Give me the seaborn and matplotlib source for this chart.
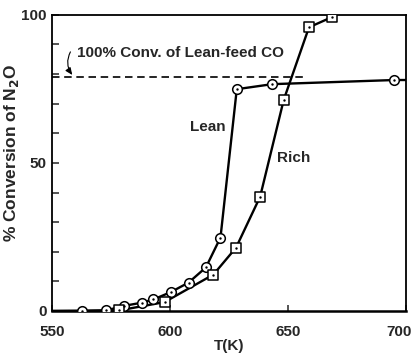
import matplotlib
matplotlib.use("Agg")
import matplotlib.pyplot as plt
import matplotlib.transforms as mtransforms
import seaborn as sns
import pandas as pd

# Lean feed: temperature (K) and % N2O conversion
lean_T = [562.7, 573.0, 580.3, 588.0, 593.0, 600.4, 607.9, 615.2, 621.4, 628.3, 643.3, 695.1]
lean_conv = [0.0, 0.2, 1.7, 2.8, 3.9, 6.4, 9.6, 14.7, 24.8, 74.9, 76.6, 78.0]

# Rich feed
rich_T = [578.5, 597.7, 618.4, 628.0, 638.2, 648.2, 658.9, 668.5]
rich_conv = [0.2, 3.0, 12.3, 21.4, 38.6, 71.3, 95.8, 99.2]

# Level corresponding to complete conversion of the lean-feed CO
co_limit = 79.1
co_limit_end = 658.0

x_ticks = [550, 600, 650, 700]
y_ticks = [0, 50, 100]

sns.set_theme(style="white")
plt.rcParams["font.family"] = ["Liberation Sans", "DejaVu Sans"]
plt.rcParams["font.weight"] = "bold"
plt.rcParams["mathtext.default"] = "bf"

fig = plt.figure(figsize=(4.14, 3.54), dpi=100)
ax = fig.add_axes([0.1256, 0.1215, 0.855, 0.8365])

lean = pd.DataFrame({"T": lean_T, "conv": lean_conv})
rich = pd.DataFrame({"T": rich_T, "conv": rich_conv})

# curves start on the baseline at the left edge; the lean curve runs on to the right edge
start = pd.DataFrame({"T": [550.0], "conv": [0.0]})
lean_line = pd.concat([start, lean, pd.DataFrame({"T": [700.0], "conv": [lean_conv[-1]]})],
                      ignore_index=True)
rich_line = pd.concat([start, rich], ignore_index=True)

sns.lineplot(data=lean_line, x="T", y="conv", ax=ax, color="black", lw=1.7, sort=False, zorder=2)
sns.lineplot(data=rich_line, x="T", y="conv", ax=ax, color="black", lw=1.7, sort=False, zorder=2)

sns.scatterplot(data=lean, x="T", y="conv", ax=ax, marker="o", s=48,
                facecolor="white", edgecolor="black", linewidth=1.1, zorder=3)
sns.scatterplot(data=rich, x="T", y="conv", ax=ax, marker="s", s=44,
                facecolor="white", edgecolor="black", linewidth=1.1, zorder=3)
# centre dots
sns.scatterplot(data=lean, x="T", y="conv", ax=ax, marker="o", s=3,
                color="black", linewidth=0, zorder=4)
sns.scatterplot(data=rich, x="T", y="conv", ax=ax, marker="o", s=3,
                color="black", linewidth=0, zorder=4)

ax.plot([550, co_limit_end], [co_limit, co_limit], color="black", lw=1.2,
        ls=(0, (4.5, 2.8)), zorder=2)

ax.text(560.5, 87.0, "100% Conv. of Lean-feed CO", fontsize=11, fontweight="bold",
        ha="left", va="center")
ax.annotate("", xy=(558.6, co_limit + 0.6), xytext=(557.8, 87.5),
            arrowprops=dict(arrowstyle="-|>,head_length=0.35,head_width=0.15",
                            color="black", lw=0.8, connectionstyle="arc3,rad=0.3",
                            shrinkA=0, shrinkB=0))

ax.text(616.0, 62.0, "Lean", fontsize=11, fontweight="bold", ha="center", va="center")
ax.text(652.5, 51.5, "Rich", fontsize=11, fontweight="bold", ha="center", va="center")

ax.set_xlim(550, 700)
ax.set_ylim(0, 100)
ax.set_xticks(x_ticks)
ax.set_yticks(y_ticks)
ax.set_yticks(range(0, 101, 10), minor=True)
ax.set_xticklabels([str(v) for v in x_ticks], fontsize=11, fontweight="bold")
ax.set_yticklabels([str(v) for v in y_ticks], fontsize=11, fontweight="bold")
ax.tick_params(axis="y", which="both", direction="in", length=5, width=1.1, left=True, pad=4)
ax.tick_params(axis="x", which="major", direction="in", length=4, width=1.1, bottom=True, pad=10)

# keep the last x label inside the canvas
last = ax.get_xticklabels()[-1]
last.set_transform(last.get_transform() + mtransforms.ScaledTranslation(-7 / 100, 0, fig.dpi_scale_trans))

ax.set_xlabel("T(K)", fontsize=11, fontweight="bold", labelpad=0)
ax.set_ylabel("% Conversion of N$_2$O", fontsize=12.5, fontweight="bold")
ax.yaxis.set_label_coords(-0.088, 0.535)

for side in ["left", "bottom", "right", "top"]:
    ax.spines[side].set_color("black")
    ax.spines[side].set_linewidth(1.3)
ax.spines["bottom"].set_linewidth(1.8)

fig.savefig("out.png", dpi=100)
